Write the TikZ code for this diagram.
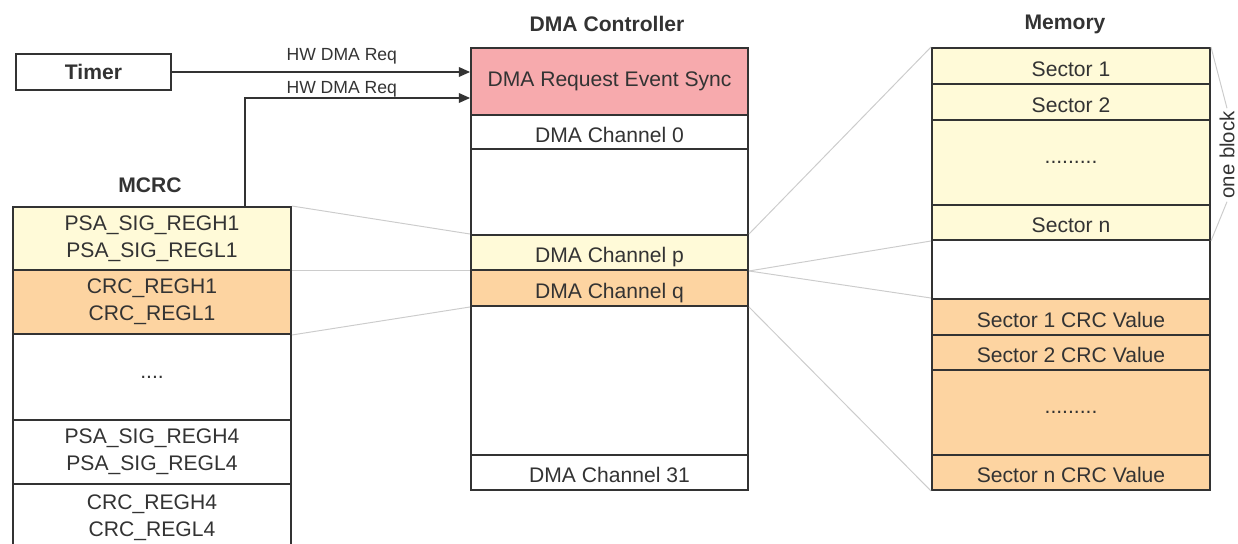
\documentclass[tikz,border=0pt]{standalone}
\usepackage{fontspec}
\setmainfont{Liberation Sans}
\usetikzlibrary{arrows.meta}
\definecolor{tiyellow}{HTML}{FFFAD8}
\definecolor{tiorange}{HTML}{FDD4A1}
\definecolor{tipink}{HTML}{F7AAAD}
\definecolor{tidark}{HTML}{333333}
\definecolor{tigray}{HTML}{CCCCCC}

\begin{document}
\begin{tikzpicture}[x=0.025cm, y=-0.025cm, >={Triangle[length=8pt,width=7pt]},
    every node/.style={font=\fontsize{15}{19}\selectfont, text=tidark},
    cell/.style={draw=tidark, line width=1.4pt, align=center, inner sep=0pt, minimum height=#1*0.025cm},
    oneline/.style={text height=14.5pt, text depth=0pt},
    natural/.style={text height=, text depth=},
    mcrc/.style={cell=#1, minimum width=278*0.025cm},
    dma/.style={cell=#1, oneline, minimum width=277*0.025cm},
    mem/.style={cell=#1, oneline, minimum width=278*0.025cm},
    title/.style={font=\fontsize{15}{18}\selectfont\bfseries},
    link/.style={draw=tigray, line width=0.7pt},
    req/.style={draw=tidark, line width=0.8pt}]
        \useasboundingbox (0,0) rectangle (1238,544);

        % titles
        \node[title] (mcrctitle) at (150,185) {MCRC};
        \node[title] (dmatitle) at (607,24) {DMA Controller};
        \node[title] (memtitle) at (1065,24) {Memory};

        \node[cell=36, minimum width=155*0.025cm, title] (timer) at (93.5,72) {Timer};

        % MCRC registers
        \node[mcrc=63, fill=tiyellow] (psa1) at (152,238.5) {PSA\_SIG\_REGH1\\PSA\_SIG\_REGL1};
        \node[mcrc=64, fill=tiorange] (crc1) at (152,302) {CRC\_REGH1\\CRC\_REGL1};
        \node[mcrc=86, fill=white] (mcrcdots) at (152,377) {....};
        \node[mcrc=64, fill=white] (psa4) at (152,452) {PSA\_SIG\_REGH4\\PSA\_SIG\_REGL4};
        \node[mcrc=68, fill=white] (crc4) at (152,518) {CRC\_REGH4\\CRC\_REGL4};

        % DMA channels
        \node[dma=67, fill=tipink, natural] (sync) at (609.5,81.5) {DMA Request Event Sync};
        \node[dma=34, fill=white] (ch0) at (609.5,132) {DMA Channel 0};
        \node[dma=86, fill=white] (gapa) at (609.5,192) {};
        \node[dma=35, fill=tiyellow] (chp) at (609.5,252.5) {DMA Channel p};
        \node[dma=36, fill=tiorange] (chq) at (609.5,288) {DMA Channel q};
        \node[dma=149, fill=white] (gapb) at (609.5,380.5) {};
        \node[dma=35, fill=white] (ch31) at (609.5,472.5) {DMA Channel 31};

        % memory sectors
        \node[mem=36, fill=tiyellow] (sec1) at (1071,66) {Sector 1};
        \node[mem=36, fill=tiyellow] (sec2) at (1071,102) {Sector 2};
        \node[mem=85, fill=tiyellow, natural] (secdots) at (1071,162.5) {.........};
        \node[mem=35, fill=tiyellow] (secn) at (1071,222.5) {Sector n};
        \node[mem=59, fill=white] (memgap) at (1071,269.5) {};
        \node[mem=36, fill=tiorange] (val1) at (1071,317) {Sector 1 CRC Value};
        \node[mem=35, fill=tiorange] (val2) at (1071,352.5) {Sector 2 CRC Value};
        \node[mem=85, fill=tiorange, natural] (valdots) at (1071,412.5) {.........};
        \node[mem=35, fill=tiorange] (valn) at (1071,472.5) {Sector n CRC Value};

        \node[rotate=90, inner sep=2pt, font=\fontsize{14.5}{17}\selectfont] (oneblock) at (1227,155) {one block};

        % requests
        \coordinate (mcrcreq) at (245,207);
        \draw[->, req] (timer.east) -- (timer.east -| sync.west)
            node[pos=0.57, above, inner sep=5pt, font=\fontsize{12.5}{15}\selectfont] (reqa) {HW DMA Req};
        \draw[->, req] (mcrcreq) |- ([yshift=-0.4125cm]sync.west)
            node[pos=0.715, above, inner sep=0.5pt, font=\fontsize{12.5}{15}\selectfont] (reqb) {HW DMA Req};

        % mapping lines
        \draw[link] (psa1.north east) -- (chp.north west);
        \draw[link] (psa1.south east) -- (chp.south west);
        \draw[link] (crc1.south east) -- (chq.south west);
        \draw[link] (chp.north east) -- (sec1.north west);
        \draw[link] (chp.south east) -- (secn.south west);
        \draw[link] (chp.south east) -- (val1.north west);
        \draw[link] (chq.south east) -- (valn.south west);
        \draw[link] (sec1.north east) -- (oneblock.east);
        \draw[link] (secn.south east) -- (oneblock.west);
      \end{tikzpicture}
\end{document}
